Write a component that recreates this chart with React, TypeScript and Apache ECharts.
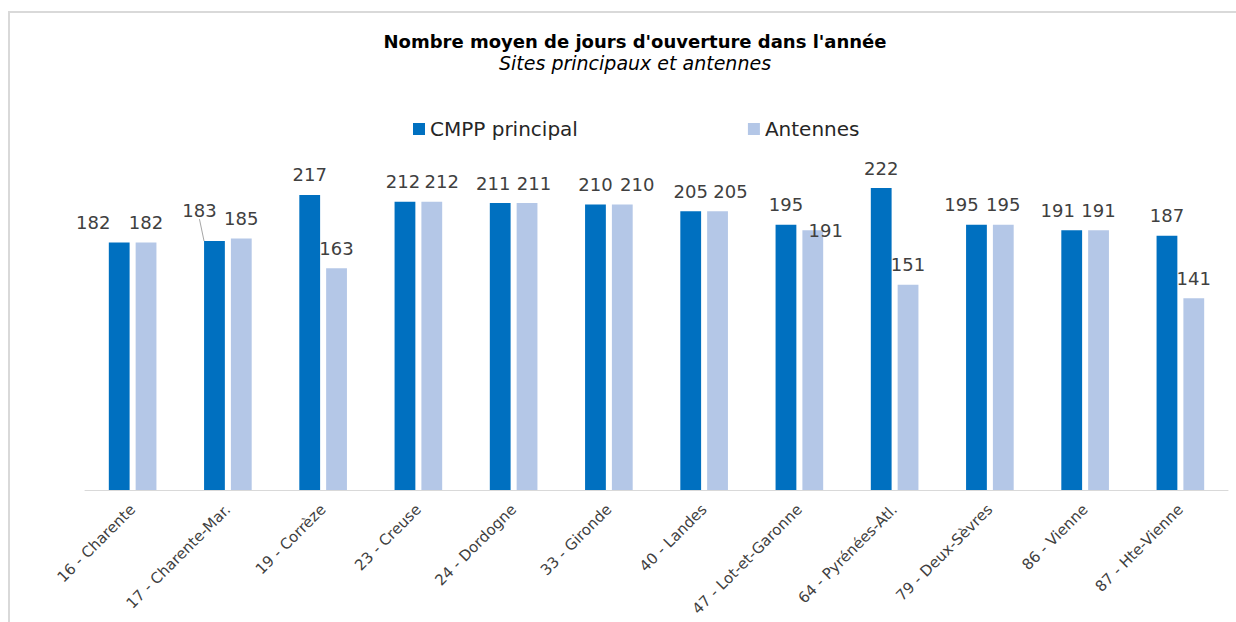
import React, { useEffect, useRef } from "react";
import * as echarts from "echarts";

const categories = [
  "16 - Charente",
  "17 - Charente-Mar.",
  "19 - Corrèze",
  "23 - Creuse",
  "24 - Dordogne",
  "33 - Gironde",
  "40 - Landes",
  "47 - Lot-et-Garonne",
  "64 - Pyrénées-Atl.",
  "79 - Deux-Sèvres",
  "86 - Vienne",
  "87 - Hte-Vienne",
];
const cmppPrincipal = [182, 183, 217, 212, 211, 210, 205, 195, 222, 195, 191, 187];
const antennes = [182, 185, 163, 212, 211, 210, 205, 191, 151, 195, 191, 141];

// label nudges (as in the reference, to avoid overlaps)
const cmppLabelDx = [-26, -15, 0, -2, -7, 0, 0, 0, 0, -15, -14, 0];
const cmppLabelDy = [0, -11, 0, 0, 0, 0, 0, 0, 0, 0, 0, 0];
const antLabelDx = [0, 0, 0, 10, 7, 15, 13, 13, 0, 0, 0, 0];
const antLabelDy = [0, 0, 0, 0, 0, 0, 0, 20, 0, 0, 0, 0];

const FONT = "'DejaVu Sans', 'Noto Sans', sans-serif";

export default function App() {
  const ref = useRef<HTMLDivElement>(null);
  useEffect(() => {
    document.body.style.margin = "0";
    const chart = echarts.init(ref.current!, undefined, { renderer: "svg" });
    const labelStyle = {
      show: true,
      position: "top",
      distance: 11,
      fontFamily: FONT,
      fontSize: 18,
      color: "#404040",
    };
    chart.setOption({
      animation: false,
      backgroundColor: "#ffffff",
      textStyle: { fontFamily: FONT },
      graphic: [
        {
          type: "rect",
          shape: { x: 9, y: 12, width: 1240, height: 630 },
          style: { fill: "none", stroke: "#d9d9d9", lineWidth: 2 },
          silent: true,
        },
      ],
      title: {
        text: "Nombre moyen de jours d'ouverture dans l'année",
        subtext: "Sites principaux et antennes",
        left: 630,
        textAlign: "center",
        top: 27,
        itemGap: 3,
        textStyle: { fontFamily: FONT, fontSize: 18, fontWeight: "bold", color: "#000000" },
        subtextStyle: { fontFamily: FONT, fontSize: 19, fontStyle: "italic", color: "#000000" },
      },
      legend: {
        top: 114,
        left: 408,
        itemWidth: 12,
        itemHeight: 12,
        itemGap: 170,
        icon: "rect",
        textStyle: { fontFamily: FONT, fontSize: 20, color: "#262626" },
        data: ["CMPP principal", "Antennes"],
      },
      grid: { left: 85, right: 8, top: 150, bottom: 132, containLabel: false },
      xAxis: {
        type: "category",
        data: categories,
        axisLine: { lineStyle: { color: "#d9d9d9", width: 1 } },
        axisTick: { show: false },
        axisLabel: {
          interval: 0,
          rotate: 45,
          margin: 17,
          fontFamily: FONT,
          fontSize: 15,
          color: "#404040",
        },
      },
      yAxis: {
        type: "value",
        min: 0,
        max: 250,
        show: false,
        splitLine: { show: false },
      },
      series: [
        {
          name: "CMPP principal",
          type: "bar",
          data: cmppPrincipal.map((v, i) =>
            i === 1 ? { value: v, labelLine: { show: true } } : v
          ),
          barGap: "29%",
          barCategoryGap: "50%",
          itemStyle: { color: "#0070C0" },
          label: labelStyle,
          labelLine: { show: false, lineStyle: { color: "#a6a6a6", width: 1 } },
          labelLayout: (p: any) => ({ dx: cmppLabelDx[p.dataIndex], dy: cmppLabelDy[p.dataIndex] }),
        },
        {
          name: "Antennes",
          type: "bar",
          data: antennes,
          itemStyle: { color: "#B4C7E7" },
          label: labelStyle,
          labelLine: { show: false },
          labelLayout: (p: any) => ({ dx: antLabelDx[p.dataIndex], dy: antLabelDy[p.dataIndex] }),
        },
      ],
    });
    return () => chart.dispose();
  }, []);
  return <div ref={ref} style={{ width: 1236, height: 622 }} />;
}
